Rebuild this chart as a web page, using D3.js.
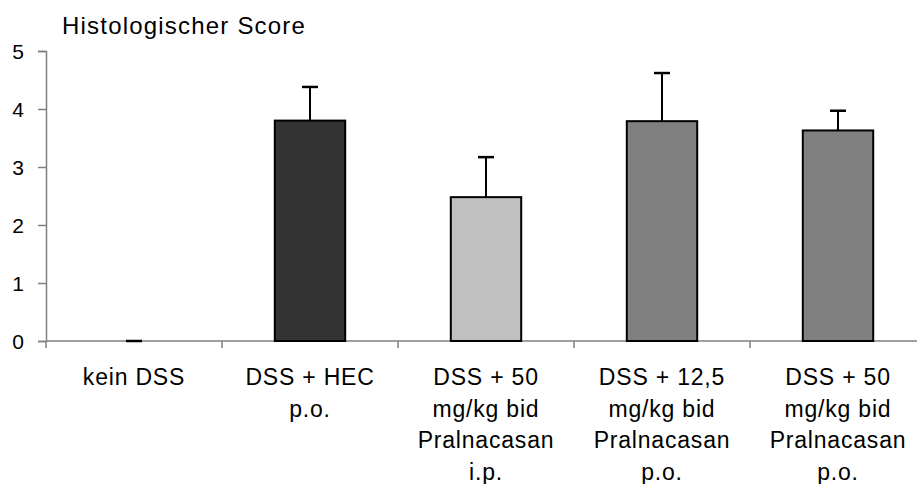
<!DOCTYPE html>
<html>
<head>
<meta charset="utf-8">
<script src="https://cdn.jsdelivr.net/npm/d3@7"></script>
<style>
  body { margin: 0; background: #fff; }
  text { font-family: "Liberation Sans", Arial, sans-serif; fill: #000; }
</style>
</head>
<body>
<svg id="chart" width="917" height="484"></svg>
<script>
// data
const groups = ["kein DSS", "DSS + HEC p.o.", "DSS + 50 mg/kg bid Pralnacasan i.p.",
                "DSS + 12,5 mg/kg bid Pralnacasan p.o.", "DSS + 50 mg/kg bid Pralnacasan p.o."];
const labelLines = [
  ["kein DSS"],
  ["DSS + HEC", "p.o."],
  ["DSS + 50", "mg/kg bid", "Pralnacasan", "i.p."],
  ["DSS + 12,5", "mg/kg bid", "Pralnacasan", "p.o."],
  ["DSS + 50", "mg/kg bid", "Pralnacasan", "p.o."]
];
const scores = [0, 3.8, 2.48, 3.79, 3.63];
const sd = [0, 0.58, 0.69, 0.83, 0.34];
const fills = ["#333333", "#333333", "#c0c0c0", "#808080", "#808080"];
const yTicks = [0, 1, 2, 3, 4, 5];

const svg = d3.select("#chart");
const mLeft = 46, mRight = 926, mTop = 51, mBottom = 341;

const x = d3.scaleBand().domain(groups).range([mLeft, mRight]).padding(0);
const y = d3.scaleLinear().domain([0, 5]).range([mBottom, mTop]);
const barW = x.bandwidth() * 0.4;

// y axis
const yAxis = svg.append("g").attr("transform", `translate(${mLeft},0)`)
  .call(d3.axisLeft(y).tickValues(yTicks).tickSize(8).tickPadding(14).tickFormat(d3.format("d")));
yAxis.select(".domain").attr("stroke", "#808080").attr("stroke-width", 1.5);
yAxis.selectAll(".tick line").attr("stroke", "#808080").attr("stroke-width", 1.5);
yAxis.selectAll("text").style("font-size", "21px").style("font-family", "Liberation Sans, Arial, sans-serif").attr("dy", "0.35em");

// x axis line with tick marks at the band edges
svg.append("line").attr("x1", mLeft).attr("x2", mRight).attr("y1", mBottom).attr("y2", mBottom)
  .attr("stroke", "#808080").attr("stroke-width", 1.5);
const edges = groups.map(g => x(g)).concat([mRight]);
svg.selectAll(".xtick").data(edges).join("line")
  .attr("x1", d => d).attr("x2", d => d).attr("y1", mBottom).attr("y2", mBottom + 7)
  .attr("stroke", "#808080").attr("stroke-width", 1.5);

// bars
const bars = groups.map((g, i) => ({ g, v: scores[i], e: sd[i], c: fills[i] }));
svg.selectAll(".bar").data(bars.filter(d => d.v > 0)).join("rect")
  .attr("x", d => x(d.g) + (x.bandwidth() - barW) / 2)
  .attr("y", d => y(d.v))
  .attr("width", barW)
  .attr("height", d => y(0) - y(d.v))
  .attr("fill", d => d.c)
  .attr("stroke", "#000").attr("stroke-width", 2);

// error bars (upper only)
const cx = d => x(d.g) + x.bandwidth() / 2;
svg.selectAll(".err").data(bars).join("line")
  .attr("x1", cx).attr("x2", cx)
  .attr("y1", d => y(d.v)).attr("y2", d => y(d.v + d.e))
  .attr("stroke", "#000").attr("stroke-width", 2);
svg.selectAll(".cap").data(bars).join("line")
  .attr("x1", d => cx(d) - 8).attr("x2", d => cx(d) + 8)
  .attr("y1", d => y(d.v + d.e)).attr("y2", d => y(d.v + d.e))
  .attr("stroke", "#000").attr("stroke-width", 2.5);

// category labels
svg.selectAll(".lab").data(bars).join("text")
  .attr("text-anchor", "middle")
  .style("font-size", "23px")
  .style("letter-spacing", "0.8px")
  .attr("transform", d => `translate(${cx(d)},385)`)
  .selectAll("tspan").data((d, i) => labelLines[i]).join("tspan")
  .attr("x", 0).attr("y", (d, j) => j * 31.5)
  .text(d => d);

// axis title
svg.append("text").attr("x", 62).attr("y", 34)
  .style("font-size", "24px")
  .style("letter-spacing", "1.2px")
  .text("Histologischer Score");
</script>
</body>
</html>
